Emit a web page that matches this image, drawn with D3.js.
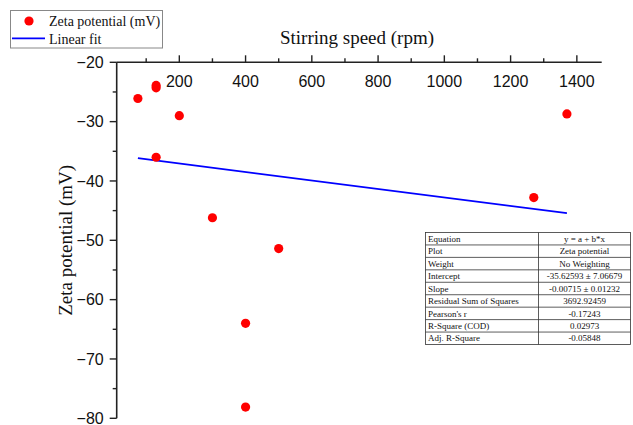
<!DOCTYPE html>
<html>
<head>
<meta charset="utf-8">
<script src="https://cdn.jsdelivr.net/npm/d3@7"></script>
<style>
  html, body { margin: 0; padding: 0; background: #fff; }
  svg { display: block; }
</style>
</head>
<body>
<svg id="chart" width="633" height="425"></svg>
<script>
// ---- data ----
const speeds = [75, 130, 130, 130, 200, 300, 400, 400, 500, 1270, 1370];
const zeta   = [-26.1, -23.9, -24.3, -36.0, -29.0, -46.2, -64.0, -78.1, -51.4, -42.8, -28.7];
const fitIntercept = -35.62593;
const fitSlope = -0.00715;
const fitRange = [75, 1370];
const xTicks = [200, 400, 600, 800, 1000, 1200, 1400];
const xMinor = [100, 300, 500, 700, 900, 1100, 1300];
const yTicks = [-20, -30, -40, -50, -60, -70, -80];
const yMinor = [-25, -35, -45, -55, -65, -75];
const tableLabels = ["Equation", "Plot", "Weight", "Intercept", "Slope", "Residual Sum of Squares", "Pearson's r", "R-Square (COD)", "Adj. R-Square"];
const tableValues = ["y = a + b*x", "Zeta potential", "No Weighting", "-35.62593 \u00B1 7.06679", "-0.00715 \u00B1 0.01232", "3692.92459", "-0.17243", "0.02973", "-0.05848"];

const svg = d3.select("#chart");
const serif = "'Liberation Serif', 'Times New Roman', serif";
const sans = "'Liberation Sans', Arial, sans-serif";

const x = d3.scaleLinear().domain([11, 1475]).range([116.7, 601.7]);
const y = d3.scaleLinear().domain([-80, -20]).range([418.3, 62.3]);
const axisColor = "#222";
const fmt = v => (v < 0 ? "\u2212" + Math.abs(v) : String(v));

// top axis (ticks outward/up, labels inside/below)
const gx = svg.append("g").attr("transform", `translate(0,${y(-20)})`);
gx.append("line").attr("x1", x.range()[0]).attr("x2", x.range()[1])
  .attr("stroke", axisColor).attr("stroke-width", 1.6);
gx.selectAll("line.maj").data(xTicks).join("line").attr("class", "maj")
  .attr("x1", d => x(d)).attr("x2", d => x(d)).attr("y1", 0).attr("y2", -7)
  .attr("stroke", axisColor).attr("stroke-width", 1.4);
gx.selectAll("line.min").data(xMinor).join("line").attr("class", "min")
  .attr("x1", d => x(d)).attr("x2", d => x(d)).attr("y1", 0).attr("y2", -4)
  .attr("stroke", axisColor).attr("stroke-width", 1.4);
gx.selectAll("text").data(xTicks).join("text")
  .attr("x", d => x(d)).attr("y", 24.5).attr("text-anchor", "middle")
  .attr("font-family", sans).attr("font-size", 16).attr("fill", "#111")
  .text(fmt);

// left axis
const gy = svg.append("g").attr("transform", `translate(${x.range()[0]},0)`);
gy.append("line").attr("y1", y.range()[0]).attr("y2", y.range()[1])
  .attr("stroke", axisColor).attr("stroke-width", 1.6);
gy.selectAll("line.maj").data(yTicks).join("line").attr("class", "maj")
  .attr("y1", d => y(d)).attr("y2", d => y(d)).attr("x1", 0).attr("x2", -7)
  .attr("stroke", axisColor).attr("stroke-width", 1.4);
gy.selectAll("line.min").data(yMinor).join("line").attr("class", "min")
  .attr("y1", d => y(d)).attr("y2", d => y(d)).attr("x1", 0).attr("x2", -4)
  .attr("stroke", axisColor).attr("stroke-width", 1.4);
gy.selectAll("text").data(yTicks).join("text")
  .attr("x", -13).attr("y", d => y(d)).attr("dy", "0.36em").attr("text-anchor", "end")
  .attr("font-family", sans).attr("font-size", 16).attr("fill", "#111")
  .text(fmt);

// axis titles
svg.append("text").attr("x", 357).attr("y", 43.5).attr("text-anchor", "middle")
  .attr("font-family", serif).attr("font-size", 19).attr("fill", "#111")
  .text("Stirring speed (rpm)");
svg.append("text").attr("transform", `translate(72,${(y.range()[0] + y.range()[1]) / 2}) rotate(-90)`)
  .attr("text-anchor", "middle")
  .attr("font-family", serif).attr("font-size", 19).attr("fill", "#111")
  .text("Zeta potential (mV)");

// fit line
svg.append("line")
  .attr("x1", x(fitRange[0])).attr("y1", y(fitIntercept + fitSlope * fitRange[0]))
  .attr("x2", x(fitRange[1])).attr("y2", y(fitIntercept + fitSlope * fitRange[1]))
  .attr("stroke", "#0000ff").attr("stroke-width", 1.8);

// points
svg.selectAll("circle.pt").data(speeds.map((s, i) => [s, zeta[i]])).join("circle")
  .attr("class", "pt").attr("cx", d => x(d[0])).attr("cy", d => y(d[1])).attr("r", 4.6)
  .attr("fill", "#ff0000");

// legend
const lg = svg.append("g");
lg.append("rect").attr("x", 10.5).attr("y", 10.5).attr("width", 152).attr("height", 37.5)
  .attr("fill", "#fff").attr("stroke", "#888").attr("stroke-width", 1);
lg.append("circle").attr("cx", 29).attr("cy", 21).attr("r", 4.6).attr("fill", "#ff0000");
lg.append("line").attr("x1", 12).attr("x2", 45).attr("y1", 38.3).attr("y2", 38.3)
  .attr("stroke", "#0000ff").attr("stroke-width", 1.8);
lg.append("text").attr("x", 49).attr("y", 26).attr("font-family", serif).attr("font-size", 14)
  .attr("fill", "#111").text("Zeta potential (mV)");
lg.append("text").attr("x", 49).attr("y", 43.5).attr("font-family", serif).attr("font-size", 14)
  .attr("fill", "#111").text("Linear fit");

// statistics table
const tX0 = 425.5, tX1 = 538.5, tX2 = 630.5, tY0 = 232.5, tY1 = 344.5;
const rowH = (tY1 - tY0) / tableLabels.length;
const tg = svg.append("g");
tg.append("rect").attr("x", tX0).attr("y", tY0).attr("width", tX2 - tX0).attr("height", tY1 - tY0)
  .attr("fill", "#fff").attr("stroke", "#333").attr("stroke-width", 0.8);
tg.append("line").attr("x1", tX1).attr("x2", tX1).attr("y1", tY0).attr("y2", tY1)
  .attr("stroke", "#333").attr("stroke-width", 0.8);
tg.selectAll("line.row").data(d3.range(1, tableLabels.length)).join("line").attr("class", "row")
  .attr("x1", tX0).attr("x2", tX2).attr("y1", i => tY0 + i * rowH).attr("y2", i => tY0 + i * rowH)
  .attr("stroke", "#333").attr("stroke-width", 0.8);
tg.selectAll("text.lab").data(tableLabels).join("text").attr("class", "lab")
  .attr("x", tX0 + 2.5).attr("y", (d, i) => tY0 + (i + 0.5) * rowH).attr("dy", "0.35em")
  .attr("font-family", serif).attr("font-size", 9).attr("fill", "#111").text(d => d);
tg.selectAll("text.val").data(tableValues).join("text").attr("class", "val")
  .attr("x", (tX1 + tX2) / 2).attr("y", (d, i) => tY0 + (i + 0.5) * rowH).attr("dy", "0.35em")
  .attr("text-anchor", "middle")
  .attr("font-family", serif).attr("font-size", 9).attr("fill", "#111").text(d => d);
</script>
</body>
</html>
